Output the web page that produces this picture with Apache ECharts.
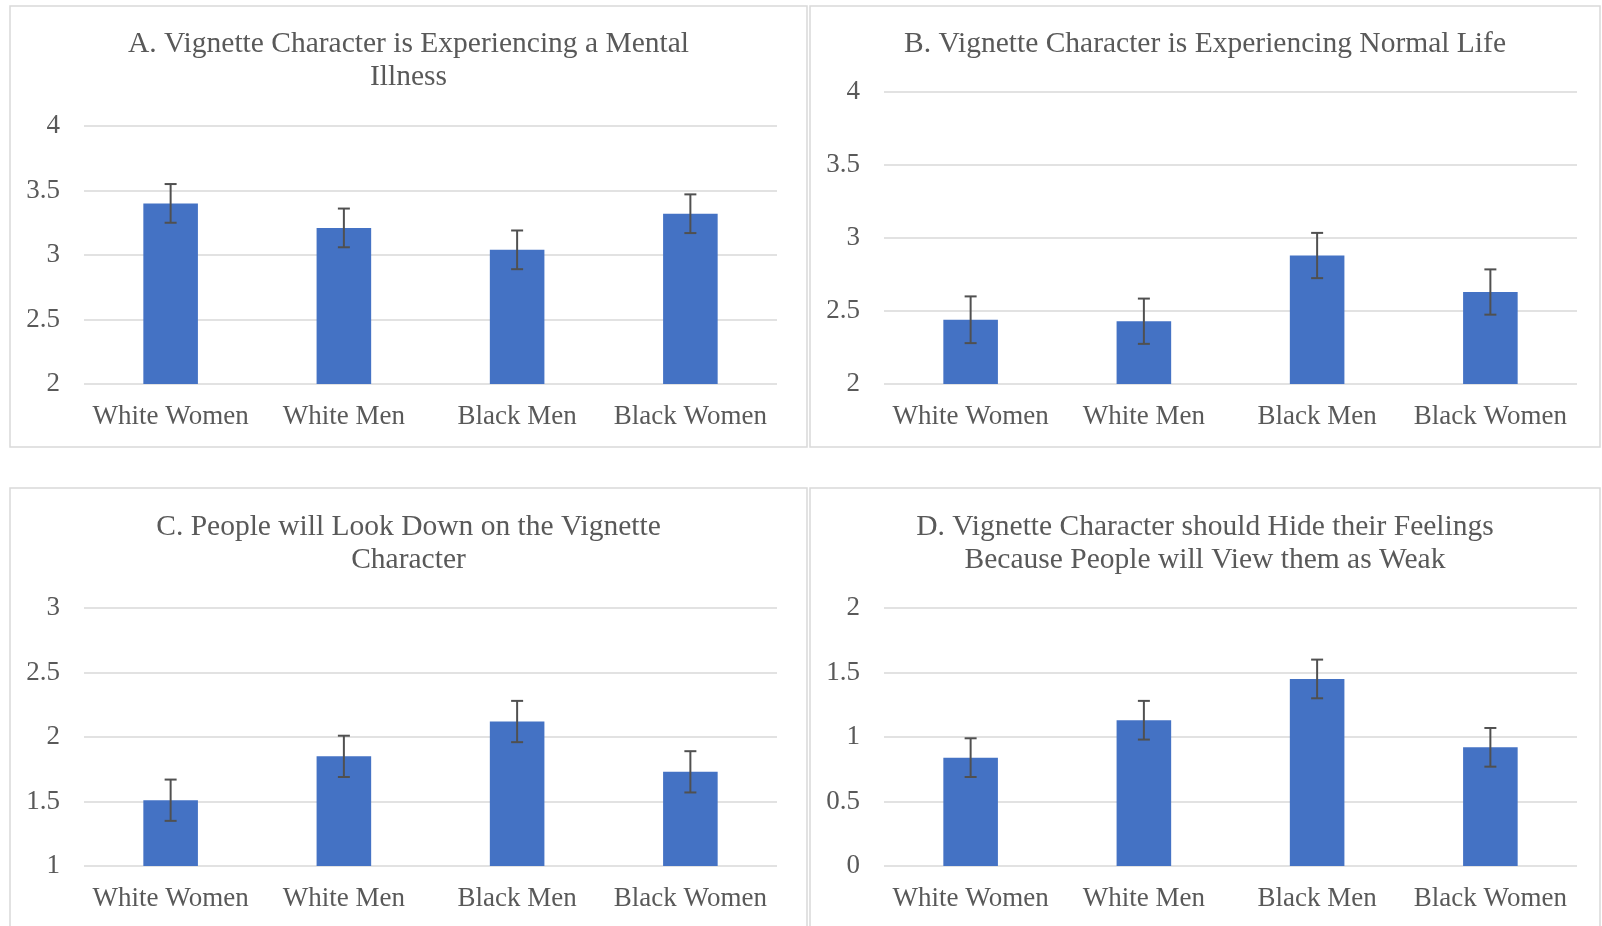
<!DOCTYPE html>
<html>
<head>
<meta charset="utf-8">
<title>Vignette ratings by group</title>
<script src="https://cdn.jsdelivr.net/npm/echarts@6/dist/echarts.min.js"></script>
<style>
  html, body { margin: 0; padding: 0; background: #ffffff; }
  #chart { width: 1602px; height: 926px; }
</style>
</head>
<body>
<div id="chart"></div>
<script>
// Groups shown on every panel
const categories = ['White Women', 'White Men', 'Black Men', 'Black Women'];

// Panel titles
const titleA = 'A. Vignette Character is Experiencing a Mental\nIllness';
const titleB = 'B. Vignette Character is Experiencing Normal Life';
const titleC = 'C. People will Look Down on the Vignette\nCharacter';
const titleD = 'D. Vignette Character should Hide their Feelings\nBecause People will View them as Weak';

// Mean ratings per group
const meansA = [3.40, 3.21, 3.04, 3.32];
const meansB = [2.44, 2.43, 2.88, 2.63];
const meansC = [1.51, 1.85, 2.12, 1.73];
const meansD = [0.84, 1.13, 1.45, 0.92];

// Error bar half-widths
const errA = [0.15, 0.15, 0.15, 0.15];
const errB = [0.16, 0.155, 0.155, 0.155];
const errC = [0.16, 0.16, 0.16, 0.16];
const errD = [0.15, 0.15, 0.15, 0.15];

// Value axis ranges [min, max, step]
const rangeA = [2, 4, 0.5];
const rangeB = [2, 4, 0.5];
const rangeC = [1, 3, 0.5];
const rangeD = [0, 2, 0.5];

const FONT = '"Liberation Serif", "Times New Roman", serif';
const TEXT = '#595959';
const GRID_LINE = '#d9d9d9';
const BAR = '#4472c4';

const panels = [
  { title: titleA, means: meansA, err: errA, range: rangeA,
    box: [10, 6, 797, 441], grid: { left: 84, top: 126, width: 693, height: 258 }, titleY: 61 },
  { title: titleB, means: meansB, err: errB, range: rangeB,
    box: [810, 6, 790, 441], grid: { left: 884, top: 92, width: 693, height: 292 }, titleY: 44.5 },
  { title: titleC, means: meansC, err: errC, range: rangeC,
    box: [10, 488, 797, 460], grid: { left: 84, top: 608, width: 693, height: 258 }, titleY: 543.5 },
  { title: titleD, means: meansD, err: errD, range: rangeD,
    box: [810, 488, 790, 460], grid: { left: 884, top: 608, width: 693, height: 258 }, titleY: 543.5 }
];

function errorBarItem(params, api) {
  const x = api.value(0);
  const v = api.value(1);
  const e = api.value(2);
  const hi = api.coord([x, v + e]);
  const lo = api.coord([x, v - e]);
  const half = 6;
  const style = { stroke: '#505050', lineWidth: 2, fill: null };
  return {
    type: 'group',
    children: [
      { type: 'line', shape: { x1: hi[0], y1: hi[1], x2: lo[0], y2: lo[1] }, style: style },
      { type: 'line', shape: { x1: hi[0] - half, y1: hi[1], x2: hi[0] + half, y2: hi[1] }, style: style },
      { type: 'line', shape: { x1: lo[0] - half, y1: lo[1], x2: lo[0] + half, y2: lo[1] }, style: style }
    ]
  };
}

const grid = [], xAxis = [], yAxis = [], series = [], graphic = [];

panels.forEach(function (p, i) {
  // panel frame
  graphic.push({
    type: 'rect', silent: true, z: -1,
    shape: { x: p.box[0], y: p.box[1], width: p.box[2], height: p.box[3] },
    style: { fill: '#ffffff', stroke: GRID_LINE, lineWidth: 1.5 }
  });
  // panel title, centred over its frame
  graphic.push({
    type: 'text', silent: true,
    x: p.box[0] + p.box[2] / 2, y: p.titleY,
    style: {
      text: p.title, fill: TEXT, font: '29.5px ' + FONT,
      lineHeight: 33, align: 'center', verticalAlign: 'middle'
    }
  });

  grid.push(Object.assign({ containLabel: false }, p.grid));

  xAxis.push({
    type: 'category', gridIndex: i, data: categories,
    axisLine: { show: false }, axisTick: { show: false },
    axisLabel: { color: TEXT, fontFamily: FONT, fontSize: 27, margin: 19, interval: 0 }
  });

  yAxis.push({
    type: 'value', gridIndex: i,
    min: p.range[0], max: p.range[1], interval: p.range[2],
    axisLine: { show: false }, axisTick: { show: false },
    axisLabel: { color: TEXT, fontFamily: FONT, fontSize: 27, margin: 24 },
    splitLine: { lineStyle: { color: GRID_LINE, width: 1.5 } }
  });

  series.push({
    type: 'bar', xAxisIndex: i, yAxisIndex: i,
    data: p.means, barWidth: '31.5%',
    itemStyle: { color: BAR },
    animation: false
  });

  series.push({
    type: 'custom', xAxisIndex: i, yAxisIndex: i,
    renderItem: errorBarItem,
    encode: { x: 0, y: 1 },
    data: p.means.map(function (m, k) { return [k, m, p.err[k]]; }),
    z: 5, animation: false
  });
});

const chart = echarts.init(document.getElementById('chart'), null, { renderer: 'canvas' });
chart.setOption({
  animation: false,
  backgroundColor: '#ffffff',
  grid: grid,
  xAxis: xAxis,
  yAxis: yAxis,
  series: series,
  graphic: graphic
});
</script>
</body>
</html>
